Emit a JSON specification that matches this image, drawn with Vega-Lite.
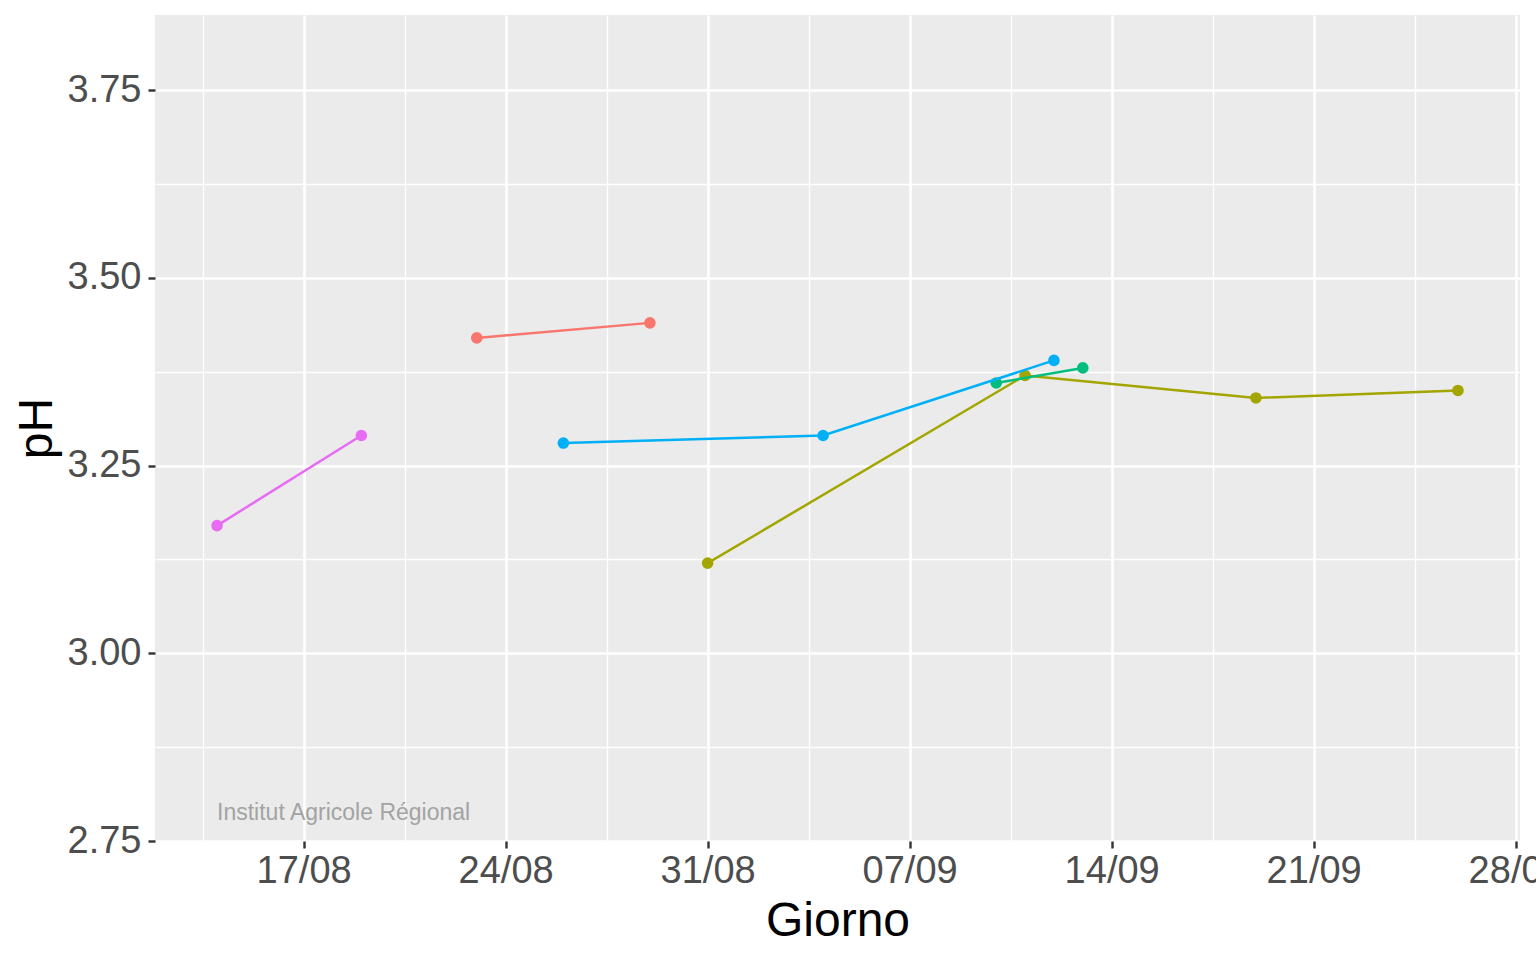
{
  "$schema": "https://vega.github.io/schema/vega-lite/v6.json",
  "width": 1365,
  "height": 826,
  "autosize": {"type": "none"},
  "padding": {"left": 155, "top": 15, "right": 16, "bottom": 119},
  "background": "white",
  "config": {
    "font": "Liberation Sans",
    "view": {"fill": "#EBEBEB", "stroke": null},
    "axis": {
      "domain": false,
      "gridColor": "white",
      "tickColor": "#333333",
      "tickSize": 7,
      "tickWidth": 2.4,
      "labelColor": "#4D4D4D",
      "labelFontSize": 38,
      "labelFont": "Liberation Sans",
      "titleFont": "Liberation Sans",
      "titleFontSize": 48,
      "titleFontWeight": "normal",
      "titleColor": "black"
    }
  },
  "datasets": {
    "ph": [
      {"serie": "A", "giorno": "2020-08-23", "pH": 3.42},
      {"serie": "A", "giorno": "2020-08-29", "pH": 3.44},
      {"serie": "B", "giorno": "2020-08-31", "pH": 3.12},
      {"serie": "B", "giorno": "2020-09-11", "pH": 3.37},
      {"serie": "B", "giorno": "2020-09-19", "pH": 3.34},
      {"serie": "B", "giorno": "2020-09-26", "pH": 3.35},
      {"serie": "C", "giorno": "2020-09-10", "pH": 3.36},
      {"serie": "C", "giorno": "2020-09-13", "pH": 3.38},
      {"serie": "D", "giorno": "2020-08-26", "pH": 3.28},
      {"serie": "D", "giorno": "2020-09-04", "pH": 3.29},
      {"serie": "D", "giorno": "2020-09-12", "pH": 3.39},
      {"serie": "E", "giorno": "2020-08-14", "pH": 3.17},
      {"serie": "E", "giorno": "2020-08-19", "pH": 3.29}
    ],
    "nota": [
      {"giorno": "2020-08-14", "pH": 2.787, "testo": "Institut Agricole Régional"}
    ]
  },
  "layer": [
    {
      "data": {"name": "ph"},
      "mark": {"type": "circle", "size": 135, "opacity": 1},
      "encoding": {
        "x": {
          "field": "giorno",
          "type": "temporal",
          "title": "Giorno",
          "scale": {
            "type": "utc",
            "domain": [
              {"year": 2020, "month": 8, "date": 11, "hours": 20, "minutes": 24, "utc": true},
              {"year": 2020, "month": 9, "date": 28, "hours": 3, "minutes": 36, "utc": true}
            ]
          },
          "axis": {
            "values": [
              {"year": 2020, "month": 8, "date": 13, "hours": 12, "utc": true},
              {"year": 2020, "month": 8, "date": 17, "utc": true},
              {"year": 2020, "month": 8, "date": 20, "hours": 12, "utc": true},
              {"year": 2020, "month": 8, "date": 24, "utc": true},
              {"year": 2020, "month": 8, "date": 27, "hours": 12, "utc": true},
              {"year": 2020, "month": 8, "date": 31, "utc": true},
              {"year": 2020, "month": 9, "date": 3, "hours": 12, "utc": true},
              {"year": 2020, "month": 9, "date": 7, "utc": true},
              {"year": 2020, "month": 9, "date": 10, "hours": 12, "utc": true},
              {"year": 2020, "month": 9, "date": 14, "utc": true},
              {"year": 2020, "month": 9, "date": 17, "hours": 12, "utc": true},
              {"year": 2020, "month": 9, "date": 21, "utc": true},
              {"year": 2020, "month": 9, "date": 24, "hours": 12, "utc": true},
              {"year": 2020, "month": 9, "date": 28, "utc": true}
            ],
            "labelExpr": "utchours(datum.value) == 12 ? '' : utcFormat(datum.value, '%d/%m')",
            "labelPadding": 4,
            "labelFlush": false,
            "labelOverlap": false,
            "titlePadding": 7,
            "gridWidth": {"condition": {"test": "utchours(datum.value) == 12", "value": 1.3}, "value": 2.6},
            "tickOpacity": {"condition": {"test": "utchours(datum.value) == 12", "value": 0}, "value": 1}
          }
        },
        "y": {
          "field": "pH",
          "type": "quantitative",
          "title": "pH",
          "scale": {"domain": [2.75, 3.85], "nice": false, "zero": false},
          "axis": {
            "values": [2.75, 2.875, 3, 3.125, 3.25, 3.375, 3.5, 3.625, 3.75],
            "labelExpr": "(datum.value * 8) % 2 == 1 ? '' : format(datum.value, '.2f')",
            "labelPadding": 7,
            "labelOverlap": false,
            "titlePadding": 6,
            "gridWidth": {"condition": {"test": "(datum.value * 8) % 2 == 1", "value": 1.3}, "value": 2.6},
            "tickOpacity": {"condition": {"test": "(datum.value * 8) % 2 == 1", "value": 0}, "value": 1}
          }
        },
        "color": {
          "field": "serie",
          "type": "nominal",
          "legend": null,
          "scale": {
            "domain": ["A", "B", "C", "D", "E"],
            "range": ["#F8766D", "#A3A500", "#00BF7D", "#00B0F6", "#E76BF3"]
          }
        }
      }
    },
    {
      "data": {"name": "ph"},
      "mark": {"type": "line", "strokeWidth": 2.5},
      "encoding": {
        "x": {"field": "giorno", "type": "temporal"},
        "y": {"field": "pH", "type": "quantitative"},
        "color": {"field": "serie", "type": "nominal", "legend": null}
      }
    },
    {
      "data": {"name": "nota"},
      "mark": {
        "type": "text",
        "align": "left",
        "baseline": "middle",
        "fontSize": 23,
        "color": "#A3A3A3",
        "font": "Liberation Sans"
      },
      "encoding": {
        "x": {"field": "giorno", "type": "temporal"},
        "y": {"field": "pH", "type": "quantitative"},
        "text": {"field": "testo"}
      }
    }
  ]
}
